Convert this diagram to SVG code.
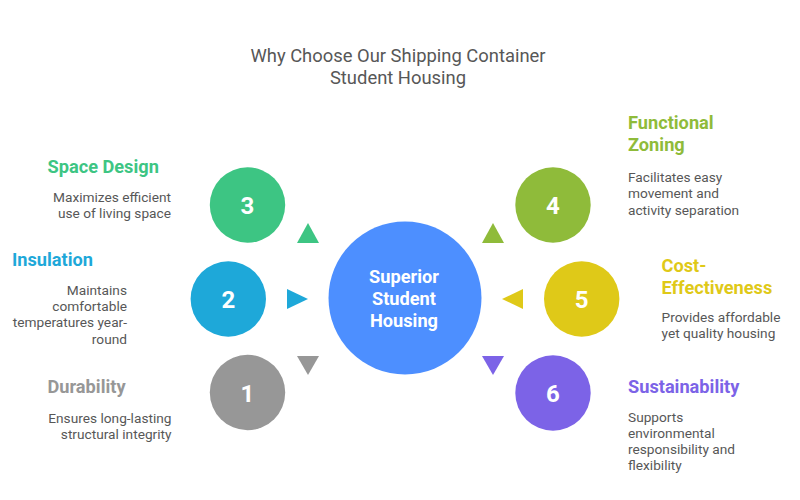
<svg xmlns="http://www.w3.org/2000/svg" width="800" height="500" viewBox="0 0 800 500">
<style>
text{font-family:Roboto,"Liberation Sans",sans-serif}
.title{font-size:18.4px;fill:#575757;text-anchor:middle}
.head{font-size:18.2px;font-weight:bold}
.desc{font-size:13.7px;fill:#575757}
.num{font-size:24px;font-weight:bold;fill:#fff;text-anchor:middle}
.ctr{font-size:18.2px;font-weight:bold;fill:#fff;text-anchor:middle}
.r{text-anchor:end}
</style>
<rect width="800" height="500" fill="#fff"/>
<text class="title" x="398" y="62">Why Choose Our Shipping Container</text>
<text class="title" x="398" y="84">Student Housing</text>

<g id="connectors">
<polygon points="308,223 297,243 319,243" fill="#3DC583"/>
<polygon points="308,299 287,289 287,309" fill="#1EA8D9"/>
<polygon points="308,375 297,356 319,356" fill="#979797"/>
<polygon points="493,223 482,243 504,243" fill="#8FBB3A"/>
<polygon points="502,299 523,289 523,309" fill="#DFC918"/>
<polygon points="493,375 482,356 504,356" fill="#7C63E7"/>
</g>

<g id="center">
<circle cx="405" cy="298" r="76.5" fill="#4D8FFF"/>
<text class="ctr" x="404" y="283">Superior</text>
<text class="ctr" x="404" y="305">Student</text>
<text class="ctr" x="404" y="327">Housing</text>
</g>

<g id="node3">
<circle cx="247.5" cy="205" r="37.7" fill="#3DC583"/>
<text class="num" x="247.5" y="214">3</text>
<text class="head" x="47.5" y="173" fill="#3DC583">Space Design</text>
<text class="desc r" x="171" y="201.5">Maximizes efficient</text>
<text class="desc r" x="171" y="217.5">use of living space</text>
</g>

<g id="node2">
<circle cx="228.3" cy="299" r="37.7" fill="#1EA8D9"/>
<text class="num" x="228.3" y="308">2</text>
<text class="head" x="12" y="265.5" fill="#1EA8D9">Insulation</text>
<text class="desc r" x="127" y="295">Maintains</text>
<text class="desc r" x="127" y="311">comfortable</text>
<text class="desc r" x="127" y="327">temperatures year-</text>
<text class="desc r" x="127" y="343.5">round</text>
</g>

<g id="node1">
<circle cx="247.5" cy="392.5" r="37.7" fill="#979797"/>
<text class="num" x="247.5" y="401.5">1</text>
<text class="head" x="47.5" y="393" fill="#979797">Durability</text>
<text class="desc r" x="171.5" y="422.5">Ensures long-lasting</text>
<text class="desc r" x="171.5" y="438.5">structural integrity</text>
</g>

<g id="node4">
<circle cx="553" cy="205" r="37.7" fill="#8FBB3A"/>
<text class="num" x="553" y="214">4</text>
<text class="head" x="628" y="128.5" fill="#8FBB3A">Functional</text>
<text class="head" x="628" y="150.5" fill="#8FBB3A">Zoning</text>
<text class="desc" x="628" y="181.5">Facilitates easy</text>
<text class="desc" x="628" y="198">movement and</text>
<text class="desc" x="628" y="214.5">activity separation</text>
</g>

<g id="node5">
<circle cx="581.7" cy="299" r="37.7" fill="#DFC918"/>
<text class="num" x="581.7" y="308">5</text>
<text class="head" x="661.5" y="272" fill="#DFC918">Cost-</text>
<text class="head" x="661.5" y="294" fill="#DFC918">Effectiveness</text>
<text class="desc" x="661.5" y="321.5">Provides affordable</text>
<text class="desc" x="661.5" y="337.5">yet quality housing</text>
</g>

<g id="node6">
<circle cx="553" cy="393" r="37.7" fill="#7C63E7"/>
<text class="num" x="553" y="402">6</text>
<text class="head" x="628" y="393" fill="#7C63E7">Sustainability</text>
<text class="desc" x="628" y="421.5">Supports</text>
<text class="desc" x="628" y="437.5">environmental</text>
<text class="desc" x="628" y="453.5">responsibility and</text>
<text class="desc" x="628" y="470">flexibility</text>
</g>
</svg>
